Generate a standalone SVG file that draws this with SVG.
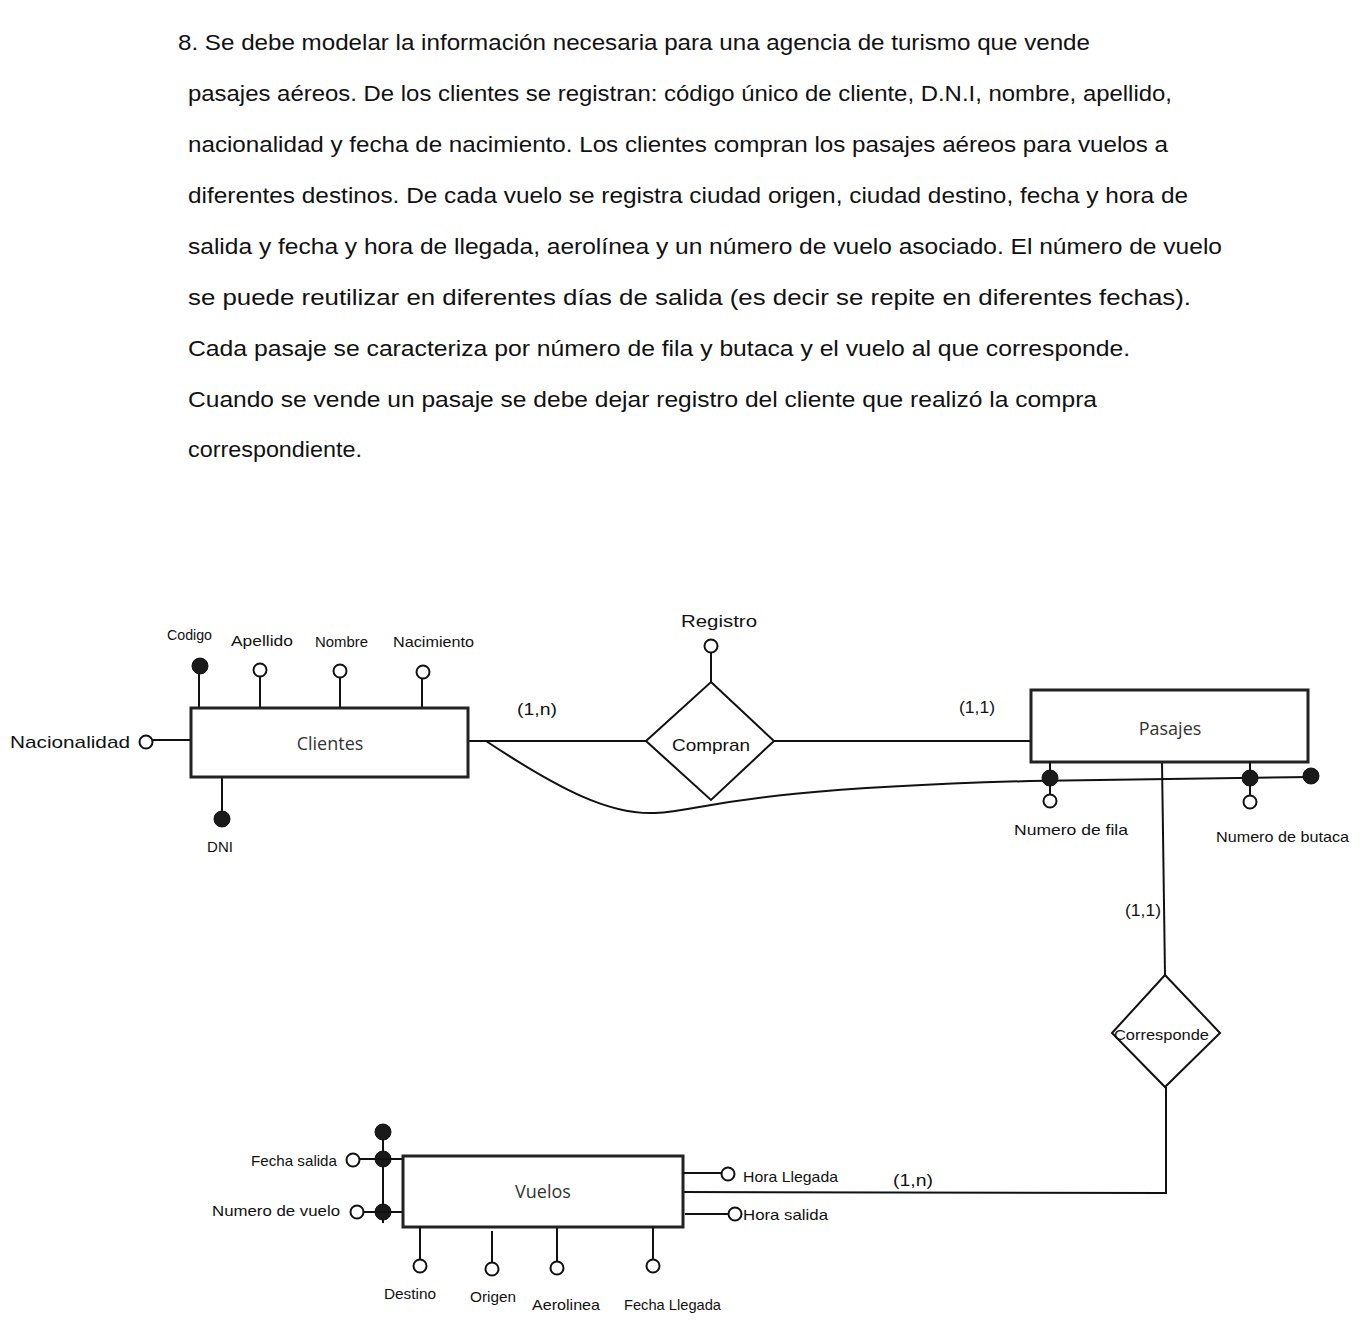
<svg xmlns="http://www.w3.org/2000/svg" width="1361" height="1331" viewBox="0 0 1361 1331">
<style>
.p{font-family:"Liberation Sans",Arial,sans-serif;font-size:22px;fill:#111}
.h{font-family:"Liberation Sans",Arial,sans-serif;font-size:17px;fill:#111}
.hs{font-family:"Liberation Sans",Arial,sans-serif;font-size:15px;fill:#111}
.e{font-family:"Open Sans","Liberation Sans",sans-serif;font-size:18px;fill:#333}
.box{fill:#fff;stroke:#222;stroke-width:3}
.dia{fill:#fff;stroke:#111;stroke-width:2}
.ln{fill:none;stroke:#111;stroke-width:2}
.o{fill:#fff;stroke:#111;stroke-width:2}
.f{fill:#1a1a1a;stroke:#111;stroke-width:1}
</style>
<rect width="1361" height="1331" fill="#fff"/>
<g id="enunciado">
<text class="p" x="178" y="50" textLength="912" lengthAdjust="spacingAndGlyphs">8. Se debe modelar la información necesaria para una agencia de turismo que vende</text>
<text class="p" x="188" y="101" textLength="984" lengthAdjust="spacingAndGlyphs">pasajes aéreos. De los clientes se registran: código único de cliente, D.N.I, nombre, apellido,</text>
<text class="p" x="188" y="152" textLength="980" lengthAdjust="spacingAndGlyphs">nacionalidad y fecha de nacimiento. Los clientes compran los pasajes aéreos para vuelos a</text>
<text class="p" x="188" y="203" textLength="1000" lengthAdjust="spacingAndGlyphs">diferentes destinos. De cada vuelo se registra ciudad origen, ciudad destino, fecha y hora de</text>
<text class="p" x="188" y="254" textLength="1034" lengthAdjust="spacingAndGlyphs">salida y fecha y hora de llegada, aerolínea y un número de vuelo asociado. El número de vuelo</text>
<text class="p" x="188" y="305" textLength="1003" lengthAdjust="spacingAndGlyphs">se puede reutilizar en diferentes días de salida (es decir se repite en diferentes fechas).</text>
<text class="p" x="188" y="356" textLength="942" lengthAdjust="spacingAndGlyphs">Cada pasaje se caracteriza por número de fila y butaca y el vuelo al que corresponde.</text>
<text class="p" x="188" y="407" textLength="909" lengthAdjust="spacingAndGlyphs">Cuando se vende un pasaje se debe dejar registro del cliente que realizó la compra</text>
<text class="p" x="188" y="457" textLength="174" lengthAdjust="spacingAndGlyphs">correspondiente.</text>
</g>
<g id="connectors">
<line class="ln" x1="468" y1="741" x2="646" y2="741"/>
<line class="ln" x1="774" y1="741" x2="1030" y2="741"/>
<path class="ln" d="M486 741 C560 790 610 815 655 813 C710 810 720 790 1030 781 L1311 777"/>
<line class="ln" x1="1162" y1="762" x2="1165" y2="975"/>
<polyline class="ln" points="1166,1087 1166,1193 683,1192"/>
<text class="h" x="537" y="715" text-anchor="middle" font-size="23" textLength="40" lengthAdjust="spacingAndGlyphs">(1,n)</text>
<text class="h" x="977" y="713" text-anchor="middle" font-size="23" textLength="36" lengthAdjust="spacingAndGlyphs">(1,1)</text>
<text class="h" x="1143" y="916" text-anchor="middle" font-size="23" textLength="36" lengthAdjust="spacingAndGlyphs">(1,1)</text>
<text class="h" x="913" y="1186" text-anchor="middle" font-size="23" textLength="40" lengthAdjust="spacingAndGlyphs">(1,n)</text>
</g>
<g id="clientes">
<line class="ln" x1="199" y1="666" x2="199" y2="710"/>
<circle class="f" cx="200" cy="666" r="8"/>
<text class="hs" x="167" y="640" textLength="45" lengthAdjust="spacingAndGlyphs">Codigo</text>
<line class="ln" x1="260" y1="677" x2="260" y2="708"/>
<circle class="o" cx="260" cy="670" r="6.5"/>
<text class="hs" x="231" y="646" textLength="62" lengthAdjust="spacingAndGlyphs">Apellido</text>
<line class="ln" x1="340" y1="678" x2="340" y2="708"/>
<circle class="o" cx="340" cy="671" r="6.5"/>
<text class="hs" x="315" y="647" textLength="53" lengthAdjust="spacingAndGlyphs">Nombre</text>
<line class="ln" x1="422" y1="679" x2="422" y2="708"/>
<circle class="o" cx="423" cy="672" r="6.5"/>
<text class="hs" x="393" y="647" textLength="81" lengthAdjust="spacingAndGlyphs">Nacimiento</text>
<line class="ln" x1="153" y1="740" x2="193" y2="740"/>
<circle class="o" cx="146" cy="742" r="6.5"/>
<text class="h" x="10" y="748" font-size="22" textLength="120" lengthAdjust="spacingAndGlyphs">Nacionalidad</text>
<line class="ln" x1="222" y1="777" x2="222" y2="818"/>
<circle class="f" cx="222" cy="819" r="8"/>
<text class="hs" x="220" y="852" text-anchor="middle" font-size="17">DNI</text>
<rect class="box" x="191" y="708" width="277" height="69"/>
<text class="e" x="330" y="750" text-anchor="middle">Clientes</text>
</g>
<g id="compran">
<line class="ln" x1="711" y1="653" x2="711" y2="682"/>
<circle class="o" cx="711" cy="646" r="6.5"/>
<text class="h" x="681" y="627" font-size="21" textLength="76" lengthAdjust="spacingAndGlyphs">Registro</text>
<polygon class="dia" points="711,682 774,741 711,800 646,741"/>
<text class="h" x="672" y="751" font-size="21" textLength="78" lengthAdjust="spacingAndGlyphs">Compran</text>
</g>
<g id="pasajes">
<rect class="box" x="1031" y="690" width="277" height="72"/>
<text class="e" x="1170" y="735" text-anchor="middle">Pasajes</text>
<line class="ln" x1="1050" y1="762" x2="1050" y2="795"/>
<circle class="f" cx="1050" cy="778" r="8"/>
<circle class="o" cx="1050" cy="801" r="6.5"/>
<text class="hs" x="1014" y="835" textLength="114" lengthAdjust="spacingAndGlyphs">Numero de fila</text>
<line class="ln" x1="1250" y1="762" x2="1250" y2="796"/>
<circle class="f" cx="1250" cy="778" r="8"/>
<circle class="o" cx="1250" cy="802" r="6.5"/>
<text class="hs" x="1216" y="842" textLength="133" lengthAdjust="spacingAndGlyphs">Numero de butaca</text>
<circle class="f" cx="1311" cy="776" r="8"/>
</g>
<g id="corresponde">
<polygon class="dia" points="1165,975 1220,1033 1165,1087 1112,1033"/>
<text class="hs" x="1114" y="1040" textLength="95" lengthAdjust="spacingAndGlyphs">Corresponde</text>
</g>
<g id="vuelos">
<line class="ln" x1="383" y1="1132" x2="383" y2="1223"/>
<circle class="f" cx="383" cy="1132" r="8"/>
<circle class="f" cx="383" cy="1159" r="8"/>
<circle class="f" cx="383" cy="1212" r="8"/>
<line class="ln" x1="360" y1="1159" x2="402" y2="1159"/>
<circle class="o" cx="353" cy="1160" r="6.5"/>
<text class="hs" x="251" y="1166" textLength="86" lengthAdjust="spacingAndGlyphs">Fecha salida</text>
<line class="ln" x1="364" y1="1212" x2="404" y2="1212"/>
<circle class="o" cx="357" cy="1212" r="6.5"/>
<text class="hs" x="212" y="1216" textLength="128" lengthAdjust="spacingAndGlyphs">Numero de vuelo</text>
<rect class="box" x="403" y="1156" width="280" height="71"/>
<text class="e" x="543" y="1198" text-anchor="middle">Vuelos</text>
<line class="ln" x1="420" y1="1227" x2="420" y2="1259"/>
<circle class="o" cx="420" cy="1266" r="6.5"/>
<text class="hs" x="384" y="1299" textLength="52" lengthAdjust="spacingAndGlyphs">Destino</text>
<line class="ln" x1="492" y1="1231" x2="492" y2="1262"/>
<circle class="o" cx="492" cy="1269" r="6.5"/>
<text class="hs" x="470" y="1302" textLength="46" lengthAdjust="spacingAndGlyphs">Origen</text>
<line class="ln" x1="557" y1="1228" x2="557" y2="1261"/>
<circle class="o" cx="557" cy="1268" r="6.5"/>
<text class="hs" x="532" y="1310" textLength="68" lengthAdjust="spacingAndGlyphs">Aerolinea</text>
<line class="ln" x1="653" y1="1227" x2="653" y2="1259"/>
<circle class="o" cx="653" cy="1266" r="6.5"/>
<text class="hs" x="624" y="1310" textLength="97" lengthAdjust="spacingAndGlyphs">Fecha Llegada</text>
<line class="ln" x1="683" y1="1173" x2="721" y2="1173"/>
<circle class="o" cx="728" cy="1174" r="6.5"/>
<text class="hs" x="743" y="1182" textLength="95" lengthAdjust="spacingAndGlyphs">Hora Llegada</text>
<line class="ln" x1="685" y1="1214" x2="728" y2="1214"/>
<circle class="o" cx="735" cy="1214" r="6.5"/>
<text class="hs" x="743" y="1220" textLength="85" lengthAdjust="spacingAndGlyphs">Hora salida</text>
</g>
</svg>
